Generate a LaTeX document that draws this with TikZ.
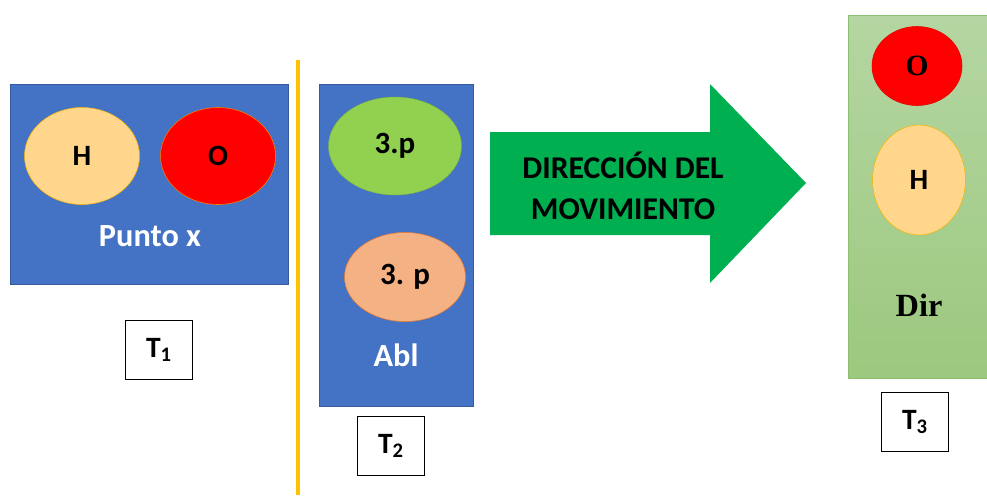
\documentclass[tikz,border=0pt]{standalone}
\usepackage{fontspec}
\setmainfont{Carlito}
\newfontfamily\timesfont{Liberation Serif}
\usetikzlibrary{shapes.geometric}

\definecolor{boxblue}{HTML}{4472C4}
\definecolor{hfill}{HTML}{FFD68C}
\definecolor{hline}{HTML}{F2B705}
\definecolor{ofill}{HTML}{FF0000}
\definecolor{pgreen}{HTML}{92D050}
\definecolor{psalmon}{HTML}{F4B183}
\definecolor{psalmonline}{HTML}{ED7D31}
\definecolor{arrowgreen}{HTML}{00B050}
\definecolor{dirtop}{HTML}{B4D6A2}
\definecolor{dirbot}{HTML}{9CC87E}
\definecolor{dirline}{HTML}{8DBF70}
\definecolor{divline}{HTML}{FFC000}

\tikzset{
  stage/.style={draw=boxblue!80!black, line width=0.4pt, fill=boxblue, rectangle, anchor=north west, inner sep=0pt},
  atom/.style={ellipse, inner sep=0pt, font=\bfseries\fontsize{21}{21}\selectfont},
  label/.style={text=white, font=\bfseries\fontsize{23}{23}\selectfont},
  tbox/.style={draw=black, line width=0.9pt, fill=white, minimum width=48pt, minimum height=42pt, inner sep=0pt, font=\bfseries\fontsize{21}{21}\selectfont},
}

\begin{document}
\begin{tikzpicture}[x=0.025cm, y=-0.025cm]
\useasboundingbox (0,0) rectangle (987,495);

% T1
\node (st1) at (10,84) [stage, minimum width=278*0.025cm, minimum height=200*0.025cm] {};
\node (h1) at (82,156) [atom, fill=hfill, draw=hline, minimum width=115*0.025cm, minimum height=97*0.025cm] {H};
\node (o1) at (218,156) [atom, fill=ofill, draw=hline!70!red, minimum width=115*0.025cm, minimum height=97*0.025cm] {O};
\node (l1) at (150,236) [label] {Punto x};
\node (t1) at (159,350) [tbox] {T\textsubscript{1}};

\draw [divline, line width=2.5pt] (298,60) -- (298,495);

% T2
\node (st2) at (319,84) [stage, minimum width=154*0.025cm, minimum height=322*0.025cm] {};
\node (p1) at (395,146) [atom, fill=pgreen, draw=pgreen!85!black, line width=0.3pt, minimum width=133*0.025cm, minimum height=98*0.025cm, font=\bfseries\fontsize{22}{22}\selectfont] {3.p};
\node (p2) at (405,277) [atom, fill=psalmon, draw=psalmonline, minimum width=121*0.025cm, minimum height=89*0.025cm, font=\bfseries\fontsize{22}{22}\selectfont] {3. p};
\node (l2) at (396,355) [label] {Abl};
\node (t2) at (391,446) [tbox] {T\textsubscript{2}};

% flecha
\fill [arrowgreen] (490,132) -- (710,132) -- (710,84) -- (806,183) -- (710,283) -- (710,235) -- (490,235) -- cycle;
\node (mov) at (623,186) [align=center, font=\bfseries\fontsize{22.5}{29}\selectfont] {DIRECCIÓN DEL\\MOVIMIENTO};

% T3
\node (st3) at (848,15) [rectangle, anchor=north west, inner sep=0pt, draw=dirline, top color=dirtop, bottom color=dirbot, minimum width=139*0.025cm, minimum height=363*0.025cm] {};
\node (o3) at (917,66) [atom, fill=ofill, draw=ofill!90!black, minimum width=90*0.025cm, minimum height=79*0.025cm, font=\timesfont\bfseries\fontsize{21}{21}\selectfont] {O};
\node (h3) at (919,180) [atom, fill=hfill, draw=hline, minimum width=93*0.025cm, minimum height=110*0.025cm] {H};
\node (l3) at (919,305) [font=\timesfont\bfseries\fontsize{23}{23}\selectfont] {Dir};
\node (t3) at (915,422) [tbox] {T\textsubscript{3}};
\end{tikzpicture}
\end{document}
